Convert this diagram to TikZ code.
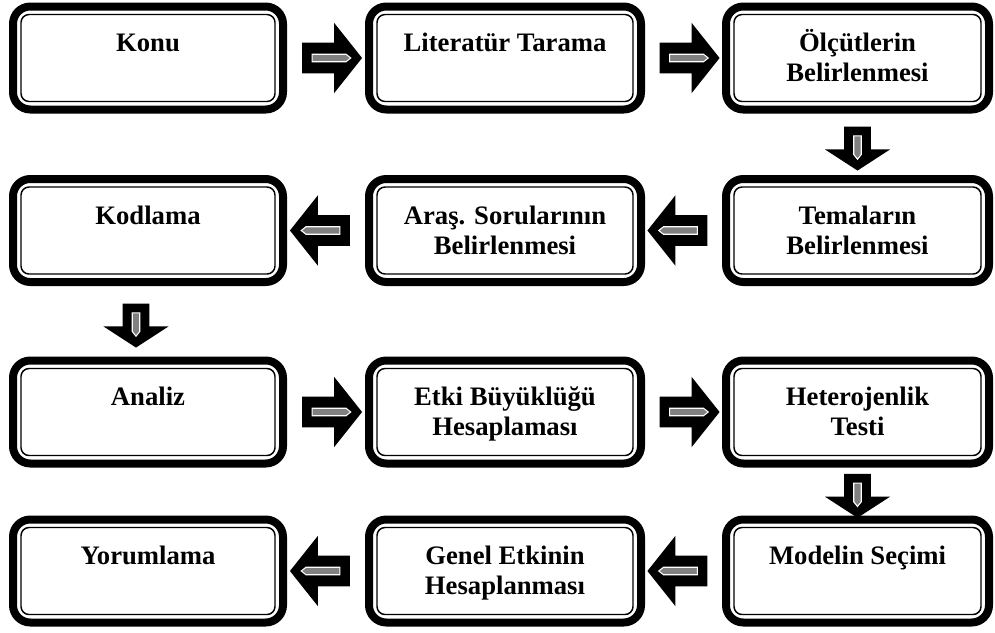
\documentclass[tikz,border=0pt]{standalone}
\usepackage{fontspec}
\setmainfont{Liberation Serif}
\usetikzlibrary{shapes.arrows,calc}

% text set at the top of a box
\newcommand{\flowtext}[1]{\parbox[c][77.25pt][t]{190pt}{\centering\rule{0pt}{34pt}#1}}

\tikzset{
  flowbox/.style={draw, line width=6pt, rounded corners=13pt, inner sep=0pt,
    minimum height=77.25pt, fill=white,
    font=\fontsize{20}{22.5}\selectfont\bfseries,
    path picture={\draw[line width=1.1pt, rounded corners=6pt]
      ([shift={(6pt,-6pt)}]path picture bounding box.north west) rectangle
      ([shift={(-6pt,6pt)}]path picture bounding box.south east);}},
  innerbar/.style={white, line width=0.8pt, fill=black!50},
  harrow/.style={single arrow, fill=black, inner xsep=0pt, inner ysep=11.25pt,
    minimum height=45pt, single arrow head extend=15pt, single arrow tip angle=103},
  rarrow/.style={harrow,
    path picture={\draw[innerbar]
      ([shift={(7.5pt,2.8pt)}]path picture bounding box.west) --
      ([shift={(-12pt,2.8pt)}]path picture bounding box.east) --
      ([xshift=-8.5pt]path picture bounding box.east) --
      ([shift={(-12pt,-2.8pt)}]path picture bounding box.east) --
      ([shift={(7.5pt,-2.8pt)}]path picture bounding box.west) -- cycle;}},
  larrow/.style={harrow, shape border rotate=180,
    path picture={\draw[innerbar]
      ([shift={(-7.5pt,2.8pt)}]path picture bounding box.east) --
      ([shift={(12pt,2.8pt)}]path picture bounding box.west) --
      ([xshift=8.5pt]path picture bounding box.west) --
      ([shift={(12pt,-2.8pt)}]path picture bounding box.west) --
      ([shift={(-7.5pt,-2.8pt)}]path picture bounding box.east) -- cycle;}},
  darrow/.style={single arrow, fill=black, shape border rotate=270,
    inner xsep=9.75pt, inner ysep=0pt, minimum height=33pt,
    single arrow head extend=14.6pt, single arrow tip angle=114,
    path picture={\draw[innerbar]
      ([shift={(-2.8pt,-7pt)}]path picture bounding box.north) --
      ([shift={(-2.8pt,12pt)}]path picture bounding box.south) --
      ([yshift=8.5pt]path picture bounding box.south) --
      ([shift={(2.8pt,12pt)}]path picture bounding box.south) --
      ([shift={(2.8pt,-7pt)}]path picture bounding box.north) -- cycle;}},
}

\begin{document}
\begin{tikzpicture}[x=0.75pt,y=-0.75pt]
  \useasboundingbox (0,0) rectangle (995,632);

  % row 1
  \node[flowbox, minimum width=202.5pt] (konu) at (148,58) {\flowtext{Konu}};
  \node[flowbox, minimum width=204pt] (literatur) at (505,58) {\flowtext{Literatür Tarama}};
  \node[flowbox, minimum width=197.25pt] (olcut) at (857.5,58) {\flowtext{Ölçütlerin\\Belirlenmesi}};

  % row 2
  \node[flowbox, minimum width=197.25pt] (tema) at (857.5,230.5) {\flowtext{Temaların\\Belirlenmesi}};
  \node[flowbox, minimum width=204pt] (arastirma) at (505,230.5) {\flowtext{Araş. Sorularının\\Belirlenmesi}};
  \node[flowbox, minimum width=202.5pt] (kodlama) at (148,230.5) {\flowtext{Kodlama}};

  % row 3
  \node[flowbox, minimum width=202.5pt] (analiz) at (148,412) {\flowtext{Analiz}};
  \node[flowbox, minimum width=204pt] (etki) at (505,412) {\flowtext{Etki Büyüklüğü\\Hesaplaması}};
  \node[flowbox, minimum width=197.25pt] (hetero) at (857.5,412) {\flowtext{Heterojenlik\\Testi}};

  % row 4
  \node[flowbox, minimum width=197.25pt] (model) at (857.5,571) {\flowtext{Modelin Seçimi}};
  \node[flowbox, minimum width=204pt] (genel) at (505,571) {\flowtext{Genel Etkinin\\Hesaplanması}};
  \node[flowbox, minimum width=202.5pt] (yorum) at (148,571) {\flowtext{Yorumlama}};

  % block arrows
  \node[rarrow] (a1) at ($(konu.east)!0.5!(literatur.west)$) {};
  \node[rarrow] (a2) at ($(literatur.east)!0.5!(olcut.west)$) {};
  \node[darrow] (a3) at ($(olcut.south)!0.5!(tema.north)$) {};
  \node[larrow] (a4) at ($(tema.west)!0.5!(arastirma.east)$) {};
  \node[larrow] (a5) at ($(arastirma.west)!0.5!(kodlama.east)$) {};
  \node[darrow, xshift=-9pt] (a6) at ($(kodlama.south)!0.5!(analiz.north)$) {};
  \node[rarrow] (a7) at ($(analiz.east)!0.5!(etki.west)$) {};
  \node[rarrow] (a8) at ($(etki.east)!0.5!(hetero.west)$) {};
  \node[darrow] (a9) at ($(hetero.south)!0.5!(model.north)$) {};
  \node[larrow] (a10) at ($(model.west)!0.5!(genel.east)$) {};
  \node[larrow] (a11) at ($(genel.west)!0.5!(yorum.east)$) {};
\end{tikzpicture}
\end{document}
